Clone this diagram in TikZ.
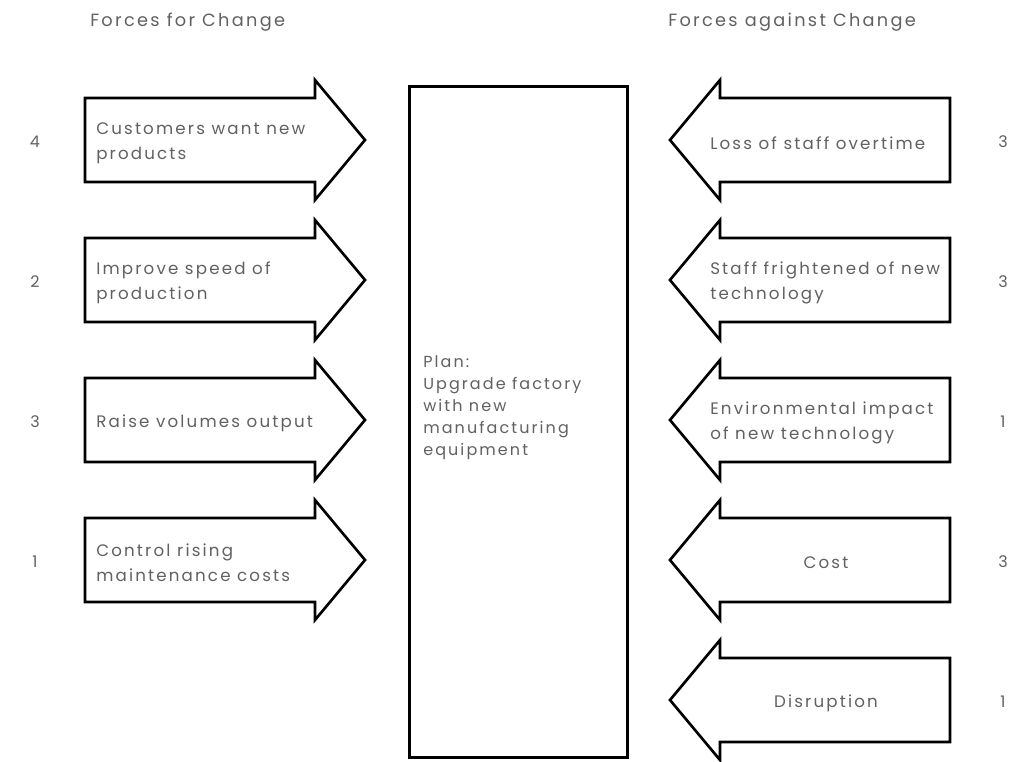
\documentclass[tikz,border=0pt]{standalone}
\usepackage{fontspec}
\setmainfont{Poppins}
\newfontfamily\widesans[LetterSpace=13]{Poppins}
\begin{document}
\begin{tikzpicture}[x=0.75pt,y=-0.75pt,
  outline/.style={draw=black,line width=2pt,line join=miter,fill=white},
  forcetext/.style={text=black!62,font=\widesans\fontsize{12.5}{18.75}\selectfont,inner sep=0pt,align=left},
  weight/.style={text=black!62,font=\widesans\fontsize{12}{12}\selectfont,inner sep=0pt},
  heading/.style={text=black!62,font=\widesans\fontsize{13.3}{14}\selectfont,inner sep=0pt,anchor=west},
  plantext/.style={text=black!62,font=\widesans\fontsize{12}{16.5}\selectfont,inner sep=0pt,align=left,anchor=north west}]
\useasboundingbox (0,0) rectangle (1035,761);

% column headings
\node[heading] (hfor) at (90,22) {Forces for Change};
\node[heading] (hagainst) at (668,22) {Forces against Change};

% the plan in the middle
\node[outline,minimum width=163.5pt,minimum height=503.25pt,anchor=north west,inner sep=0pt] (plan) at (408,85) {};
\node[plantext] (plantxt) at (423,355) {Plan:\\Upgrade factory\\with new\\manufacturing\\equipment};

% forces for change: arrows pointing right
\foreach \c/\id/\txt/\num in {
  140/cust/{Customers want new\\products}/4,
  280/speed/{Improve speed of\\production}/2,
  420/vol/{Raise volumes output}/3,
  560/maint/{Control rising\\maintenance costs}/1}{
  \draw[outline] (85,\c-42) -- (315,\c-42) -- (315,\c-60) -- (365,\c)
    -- (315,\c+60) -- (315,\c+42) -- (85,\c+42) -- cycle;
  \node[forcetext,anchor=west] (for-\id) at (96,\c+3) {\txt};
  \node[weight] (wfor-\id) at (35,\c+2) {\num};
}

% forces against change: arrows pointing left
\foreach \c/\id/\txt/\num/\anc/\tx in {
  140/loss/{Loss of staff overtime}/3/west/710,
  280/staff/{Staff frightened of new\\technology}/3/west/710,
  420/env/{Environmental impact\\of new technology}/1/west/710,
  560/cost/{Cost}/3/center/826,
  700/disr/{Disruption}/1/center/826}{
  \draw[outline] (950,\c-42) -- (720,\c-42) -- (720,\c-60) -- (670,\c)
    -- (720,\c+60) -- (720,\c+42) -- (950,\c+42) -- cycle;
  \node[forcetext,anchor=\anc] (against-\id) at (\tx,\c+3) {\txt};
  \node[weight] (wagainst-\id) at (1003,\c+2) {\num};
}
\end{tikzpicture}
\end{document}
